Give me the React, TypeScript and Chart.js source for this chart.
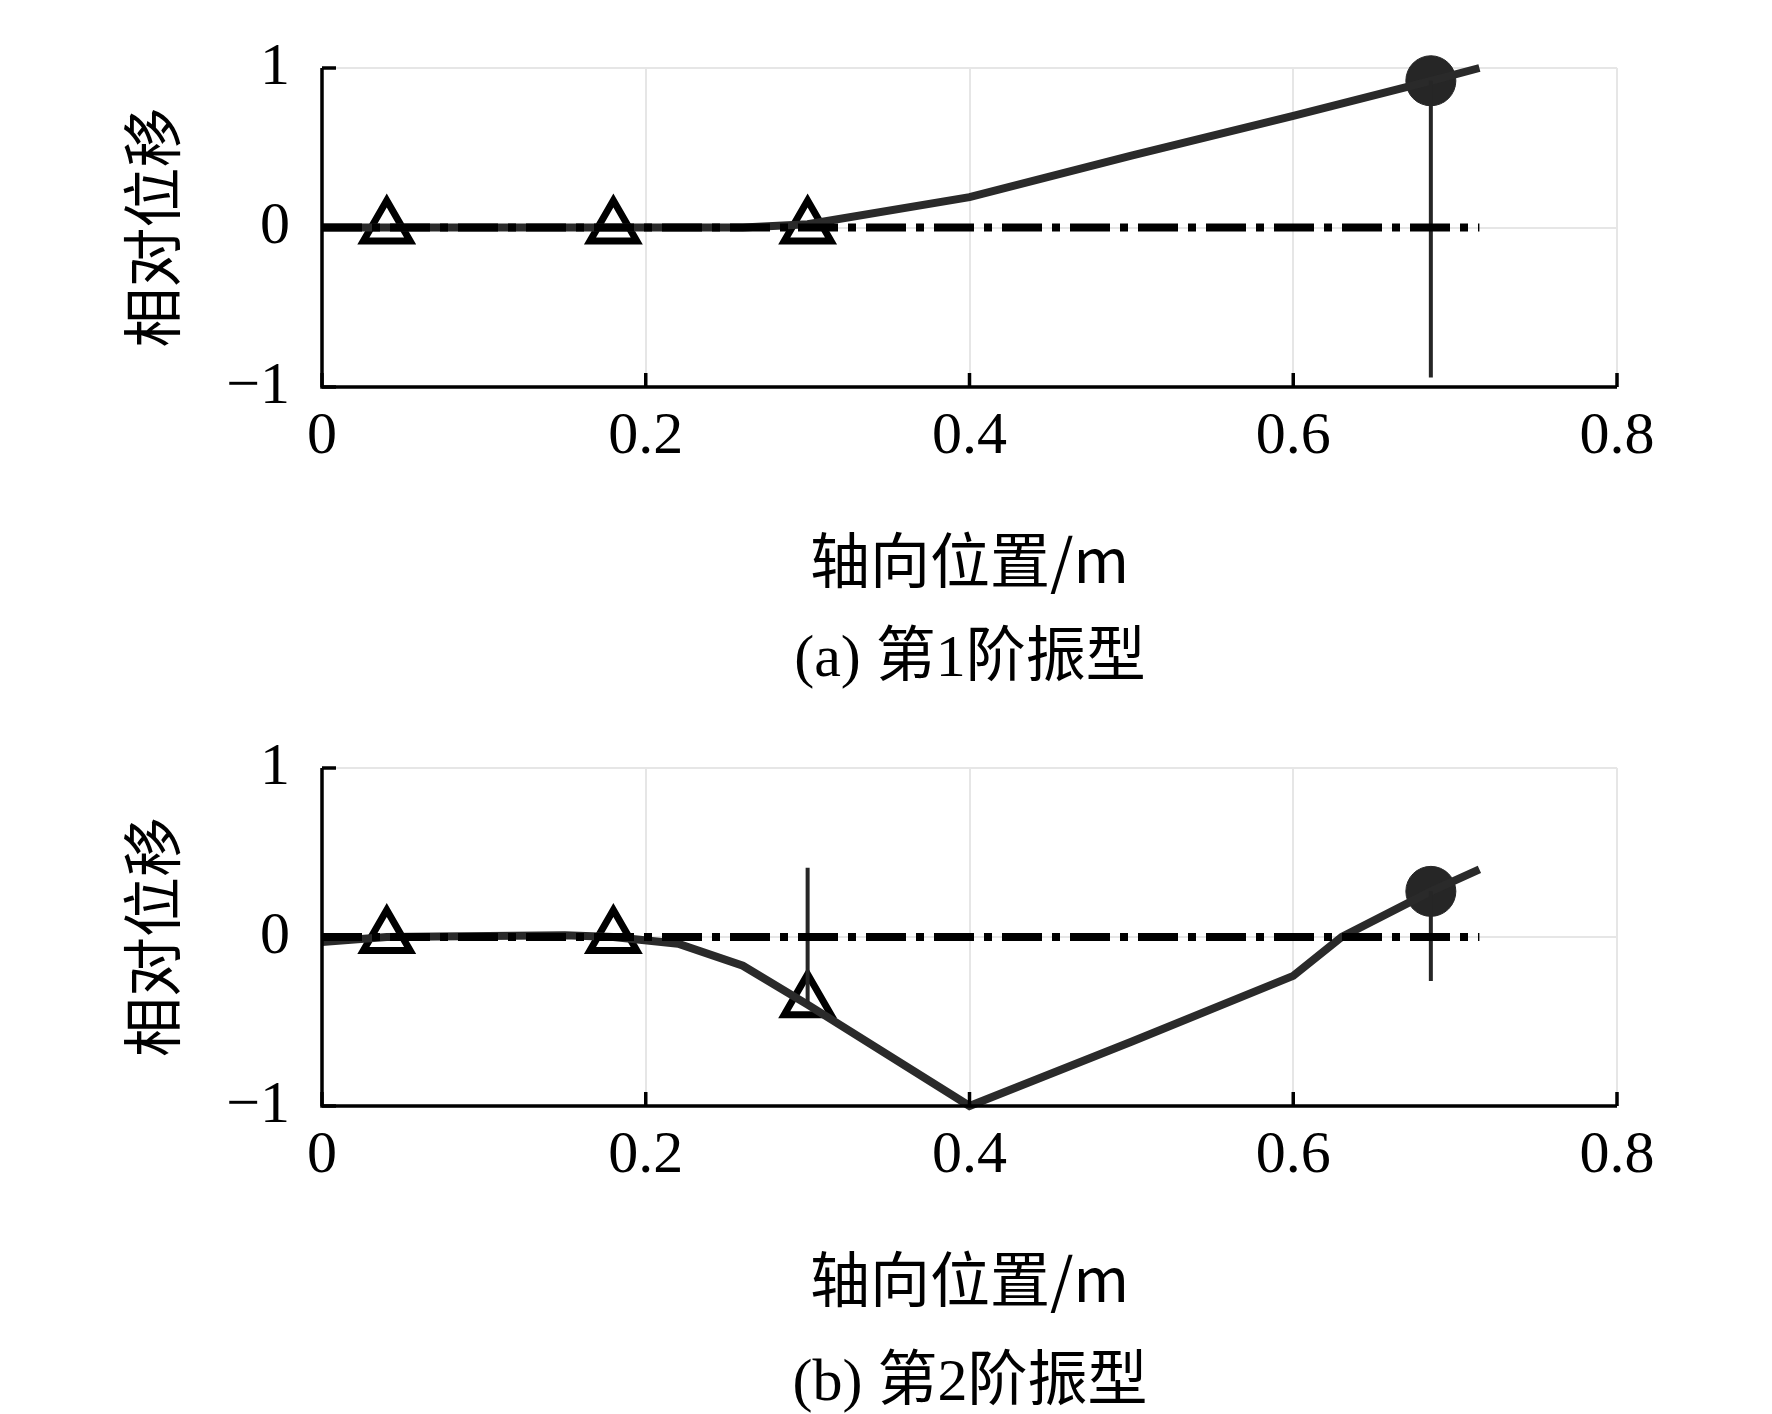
import React, { useEffect, useRef } from "react";
import { Chart, registerables } from "chart.js";
Chart.register(...registerables);

const xTicks = [0, 0.2, 0.4, 0.6, 0.8];
const yTicks = [-1, 0, 1];
const axisTitleX = "轴向位置/m";
const axisTitleY = "相对位移";

const mode1X = [0, 0.04, 0.18, 0.26, 0.3, 0.4, 0.5, 0.6, 0.685, 0.715];
const mode1Y = [0, 0, 0, 0, 0.02, 0.19, 0.45, 0.7, 0.92, 1.0];
const mode1TriX = [0.04, 0.18, 0.3];
const mode1TriY = [0, 0, 0];
const mode1CircX = [0.685];
const mode1CircY = [0.92];
const mode1Bars = [[0.685, 0.92, -0.94]];

const mode2X = [0, 0.04, 0.15, 0.18, 0.22, 0.26, 0.3, 0.4, 0.5, 0.6, 0.63, 0.685, 0.715];
const mode2Y = [-0.03, 0, 0.01, 0, -0.04, -0.17, -0.4, -1.0, -0.62, -0.23, 0, 0.27, 0.4];
const mode2TriX = [0.04, 0.18, 0.3];
const mode2TriY = [0, 0, -0.38];
const mode2CircX = [0.685];
const mode2CircY = [0.27];
const mode2Bars = [[0.3, 0.41, -0.4], [0.685, 0.27, -0.26]];

const zeroLineX = [0, 0.715];

const serif = "'Liberation Serif', 'DejaVu Serif', serif";
const cjk = "'Noto Sans CJK SC', sans-serif";

const axesPlugin = {
  id: "axesP",
  afterDatasetsDraw(chart: any) {
    const { ctx, chartArea: a, scales } = chart;
    ctx.save();
    ctx.strokeStyle = "#000";
    ctx.lineWidth = 3.5;
    ctx.beginPath();
    ctx.moveTo(a.left, a.top);
    ctx.lineTo(a.left, a.bottom);
    ctx.lineTo(a.right, a.bottom);
    ctx.stroke();
    xTicks.forEach((t) => {
      const x = scales.x.getPixelForValue(t);
      ctx.beginPath();
      ctx.moveTo(x, a.bottom);
      ctx.lineTo(x, a.bottom - 14);
      ctx.stroke();
    });
    yTicks.forEach((t) => {
      const y = scales.y.getPixelForValue(t);
      ctx.beginPath();
      ctx.moveTo(a.left, y);
      ctx.lineTo(a.left + 14, y);
      ctx.stroke();
    });
    ctx.restore();
  },
};

function pts(xs: number[], ys: number[]) {
  return xs.map((x, i) => ({ x, y: ys[i] }));
}

function makeConfig(lineX: number[], lineY: number[], triX: number[], triY: number[], cX: number[], cY: number[], bars: number[][], padTop: number) {
  const datasets: any[] = [
    {
      data: pts(zeroLineX, [0, 0]),
      borderColor: "#000",
      borderWidth: 8,
      borderDash: [40, 10, 8, 10],
      pointRadius: 0,
      clip: false,
    },
  ];
  bars.forEach((b) => {
    datasets.push({
      data: [{ x: b[0], y: b[1] }, { x: b[0], y: b[2] }],
      borderColor: "#262626",
      borderWidth: 4,
      pointRadius: 0,
      clip: false,
    });
  });
  datasets.push({
    data: pts(lineX, lineY),
    borderColor: "#2a2a2a",
    borderWidth: 8,
    pointRadius: 0,
    clip: false,
  });
  datasets.push({
    data: pts(triX, triY),
    showLine: false,
    pointStyle: "triangle",
    pointRadius: 27,
    pointBackgroundColor: "#fff",
    pointBorderColor: "#000",
    pointBorderWidth: 7,
    clip: false,
  });
  datasets.push({
    data: pts(cX, cY),
    showLine: false,
    pointStyle: "circle",
    pointRadius: 25,
    pointBackgroundColor: "#262626",
    pointBorderColor: "#262626",
    clip: false,
  });
  return {
    type: "line",
    data: { datasets },
    plugins: [axesPlugin],
    options: {
      animation: false,
      responsive: false,
      events: [],
      layout: { padding: { top: padTop, right: 155, left: 0, bottom: 0 } },
      plugins: { legend: { display: false }, tooltip: { enabled: false } },
      scales: {
        x: {
          type: "linear",
          min: 0,
          max: 0.8,
          afterBuildTicks: (s: any) => { s.ticks = xTicks.map((v) => ({ value: v })); },
          afterFit: (s: any) => { s.height = 213; },
          ticks: { color: "#000", font: { family: serif, size: 60 }, padding: 14, maxRotation: 0, callback: (v: any) => String(v) },
          grid: { color: "#e6e6e6", lineWidth: 2, drawTicks: false },
          border: { display: false },
          title: { display: true, text: axisTitleX, color: "#000", font: { family: cjk, size: 60 }, padding: { top: 10 } },
        },
        y: {
          type: "linear",
          min: -1,
          max: 1,
          afterBuildTicks: (s: any) => { s.ticks = yTicks.map((v) => ({ value: v })); },
          afterFit: (s: any) => { s.width = 322; },
          ticks: { color: "#000", font: { family: serif, size: 60 }, padding: 32, callback: (v: any) => (v < 0 ? "\u2212" + Math.abs(v) : String(v)) },
          grid: { color: "#e6e6e6", lineWidth: 2, drawTicks: false },
          border: { display: false },
          title: { display: true, text: axisTitleY, color: "#000", font: { family: cjk, size: 60 }, padding: { top: 116, bottom: 0 } },
        },
      },
    },
  };
}

function ChartBox({ cfg, top, height }: { cfg: any; top: number; height: number }) {
  const ref = useRef<HTMLCanvasElement>(null);
  useEffect(() => {
    const c = new Chart(ref.current as HTMLCanvasElement, cfg);
    return () => c.destroy();
  }, []);
  return <canvas ref={ref} width={1772} height={height} style={{ position: "absolute", left: 0, top, width: 1772, height }} />;
}

export default function App() {
  useEffect(() => { document.body.style.margin = "0"; }, []);
  const cap: React.CSSProperties = { position: "absolute", left: 0, width: 1940, textAlign: "center", fontSize: 60, color: "#000", fontFamily: serif + ", " + cjk, lineHeight: "64px" };
  return (
    <div style={{ position: "relative", width: 1772, height: 1414, background: "#fff" }}>
      <ChartBox cfg={makeConfig(mode1X, mode1Y, mode1TriX, mode1TriY, mode1CircX, mode1CircY, mode1Bars, 6)} top={0} height={600} />
      <div style={{ ...cap, top: 618 }}>(a) <span style={{ fontFamily: cjk }}>第</span>1<span style={{ fontFamily: cjk }}>阶振型</span></div>
      <ChartBox cfg={makeConfig(mode2X, mode2Y, mode2TriX, mode2TriY, mode2CircX, mode2CircY, mode2Bars, 37)} top={700} height={619} />
      <div style={{ ...cap, top: 1342 }}>(b) <span style={{ fontFamily: cjk }}>第</span>2<span style={{ fontFamily: cjk }}>阶振型</span></div>
    </div>
  );
}
